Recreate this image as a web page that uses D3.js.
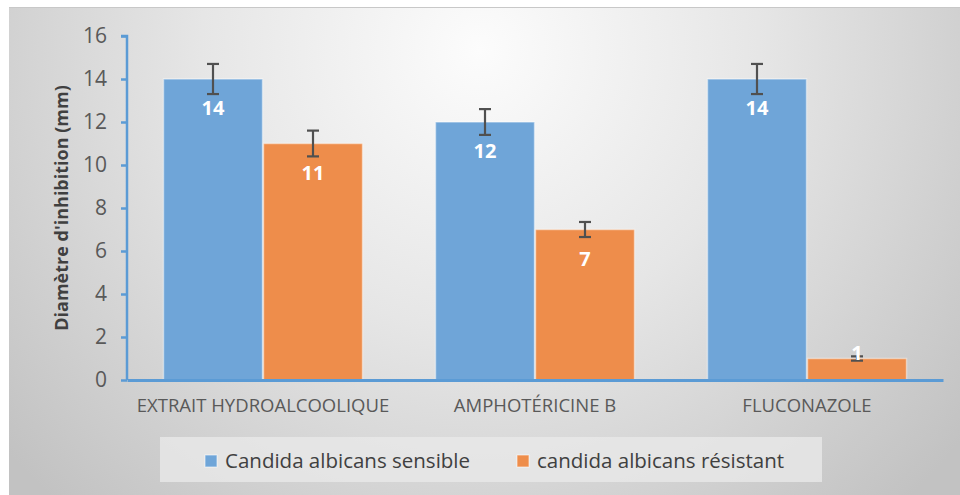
<!DOCTYPE html>
<html><head><meta charset="utf-8">
<script src="https://cdn.jsdelivr.net/npm/d3@7"></script>
<style>body{margin:0;background:#fff;}svg{display:block;}text{font-family:"Open Sans","Noto Sans",sans-serif;}</style>
</head><body>
<svg id="c" width="960" height="495"></svg>
<script>
const categories = ["EXTRAIT HYDROALCOOLIQUE", "AMPHOTÉRICINE B", "FLUCONAZOLE"];
const seriesNames = ["Candida albicans sensible", "candida albicans résistant"];
const sensible = [14, 12, 14];
const resistant = [11, 7, 1];
const sensibleErr = [0.7, 0.6, 0.7];
const resistantErr = [0.6, 0.35, 0.1];
const yTicks = [0, 2, 4, 6, 8, 10, 12, 14, 16];
const colors = ["#6fa5d8", "#ee8d4b"];

const svg = d3.select("#c");
const defs = svg.append("defs");
const g = defs.append("radialGradient").attr("id","bg")
  .attr("gradientUnits","userSpaceOnUse").attr("cx",480).attr("cy",50).attr("r",620)
  .attr("fx",480).attr("fy",50);
g.append("stop").attr("offset","0").attr("stop-color","#fcfcfc");
g.append("stop").attr("offset","0.45").attr("stop-color","#e6e6e6");
g.append("stop").attr("offset","1").attr("stop-color","#c2c2c2");

svg.append("rect").attr("x",9).attr("y",7).attr("width",951).attr("height",488).attr("fill","url(#bg)");
svg.append("line").attr("x1",9).attr("x2",960).attr("y1",7.5).attr("y2",7.5).attr("stroke","#c8c8c8").attr("stroke-width",1);

const x0 = d3.scaleBand().domain(categories).range([127, 943]).paddingInner(0).paddingOuter(0);
const y = d3.scaleLinear().domain([0, 16]).range([380, 36]);
const inner = 36;
const x1 = d3.scaleBand().domain([0,1]).range([inner, x0.bandwidth()-inner]).padding(0);

const data = categories.map((c,i)=>({c, vals:[
  {s:0, v:sensible[i], e:sensibleErr[i]},
  {s:1, v:resistant[i], e:resistantErr[i]}]}));

// y axis
const yAxis = d3.axisLeft(y).tickValues(yTicks).tickSize(6).tickPadding(14);
const ya = svg.append("g").attr("transform","translate(127,0)").call(yAxis);
ya.select(".domain").attr("stroke","#5b9bd5").attr("stroke-width",2.5).attr("d","M-6,36H0V380");
ya.selectAll(".tick line").attr("stroke","#5b9bd5").attr("stroke-width",2.5);
ya.selectAll(".tick text").attr("fill","#595959").attr("font-size",21);

// bars
const grp = svg.append("g").selectAll("g").data(data).join("g")
  .attr("transform", d=>`translate(${x0(d.c)},0)`);
grp.selectAll("rect").data(d=>d.vals).join("rect")
  .attr("x", d=>x1(d.s)+0.5).attr("width", x1.bandwidth()-1)
  .attr("y", d=>y(d.v)).attr("height", d=>y(0)-y(d.v))
  .attr("fill", d=>colors[d.s]).attr("stroke","rgba(255,255,255,0.45)").attr("stroke-width",1.5);

// error bars
const eb = grp.selectAll("g.err").data(d=>d.vals).join("g").attr("class","err")
  .attr("stroke","#505050").attr("stroke-width",2.2);
eb.append("line").attr("x1",d=>x1(d.s)+x1.bandwidth()/2).attr("x2",d=>x1(d.s)+x1.bandwidth()/2)
  .attr("y1",d=>y(d.v+d.e)).attr("y2",d=>y(d.v-d.e));
eb.append("line").attr("x1",d=>x1(d.s)+x1.bandwidth()/2-6).attr("x2",d=>x1(d.s)+x1.bandwidth()/2+6)
  .attr("y1",d=>y(d.v+d.e)).attr("y2",d=>y(d.v+d.e));
eb.append("line").attr("x1",d=>x1(d.s)+x1.bandwidth()/2-6).attr("x2",d=>x1(d.s)+x1.bandwidth()/2+6)
  .attr("y1",d=>y(d.v-d.e)).attr("y2",d=>y(d.v-d.e));

// labels
grp.selectAll("text.lbl").data(d=>d.vals).join("text").attr("class","lbl")
  .attr("x", d=>x1(d.s)+x1.bandwidth()/2)
  .attr("y", d=>Math.min(y(d.v)+36, y(0)-20))
  .attr("text-anchor","middle").attr("fill","#fff").attr("font-weight","bold").attr("font-size",20)
  .text(d=>d.v);

// x axis
const xAxis = d3.axisBottom(x0).tickSize(0).tickPadding(19);
const xa = svg.append("g").attr("transform","translate(0,380)").call(xAxis);
xa.select(".domain").attr("stroke","#5b9bd5").attr("stroke-width",3);
xa.selectAll(".tick text").attr("fill","#595959").attr("font-size",18.5);

// y title
svg.append("text").attr("transform","translate(68,208) rotate(-90)")
  .attr("text-anchor","middle").attr("fill","#404040").attr("font-weight","bold").attr("font-size",18)
  .text("Diamètre d'inhibition (mm)");

// legend
svg.append("rect").attr("x",160).attr("y",437).attr("width",662).attr("height",45).attr("fill","#e8e8e8").attr("opacity",0.8);
const legX = [205, 517];
const lg = svg.append("g").selectAll("g").data(seriesNames).join("g")
  .attr("transform",(d,i)=>`translate(${legX[i]},0)`);
lg.append("rect").attr("x",0).attr("y",455).attr("width",12).attr("height",12)
  .attr("fill",(d,i)=>colors[i]).attr("stroke","rgba(255,255,255,0.6)");
lg.append("text").attr("x",20).attr("y",468).attr("fill","#404040").attr("font-size",20.5).text(d=>d);
</script>
</body></html>
